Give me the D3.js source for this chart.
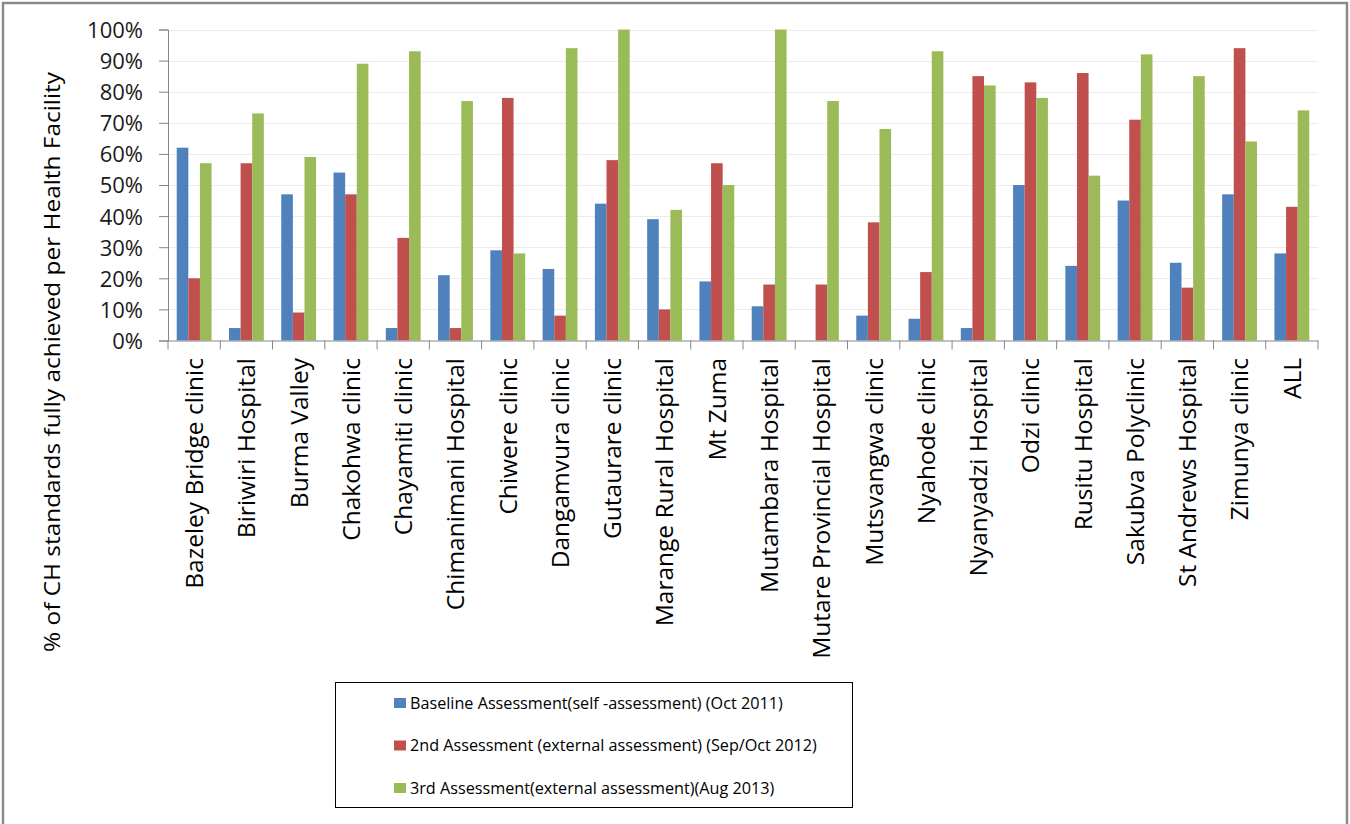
<!DOCTYPE html>
<html><head><meta charset="utf-8">
<script src="https://cdn.jsdelivr.net/npm/d3@7"></script>
<style>
body{margin:0;background:#fff;}
text{font-family:"Open Sans",Lato,sans-serif;fill:#000;}
</style></head>
<body>
<svg id="c" width="1350" height="824"></svg>
<script>
const categories = ["Bazeley Bridge clinic","Biriwiri Hospital","Burma Valley","Chakohwa clinic","Chayamiti clinic","Chimanimani Hospital","Chiwere clinic","Dangamvura clinic","Gutaurare clinic","Marange Rural Hospital","Mt Zuma","Mutambara Hospital","Mutare Provincial Hospital","Mutsvangwa clinic","Nyahode clinic","Nyanyadzi Hospital","Odzi clinic","Rusitu Hospital","Sakubva Polyclinic","St Andrews Hospital","Zimunya clinic","ALL"];
const seriesNames = ["Baseline Assessment(self -assessment) (Oct 2011)","2nd Assessment (external assessment) (Sep/Oct 2012)","3rd Assessment(external assessment)(Aug 2013)"];
const baseline = [62,4,47,54,4,21,29,23,44,39,19,11,0,8,7,4,50,24,45,25,47,28];
const second   = [20,57,9,47,33,4,78,8,58,10,57,18,18,38,22,85,83,86,71,17,94,43];
const third    = [57,73,59,89,93,77,28,94,100,42,50,100,77,68,93,82,78,53,92,85,64,74];
const yTicks = [0,10,20,30,40,50,60,70,80,90,100];
const colors = ["#4F81BD","#C0504D","#9BBB59"];
const series = [baseline, second, third];

const svg = d3.select("#c");
svg.append("rect").attr("x",3).attr("y",3).attr("width",1344).attr("height",840)
  .attr("fill","#fff").attr("stroke","#8a8a8a").attr("stroke-width",2.5);

const pL=168, pR=1318, pT=29.5, pB=340.5;
const x = d3.scaleBand().domain(categories).range([pL,pR]).paddingInner(0).paddingOuter(0);
const y = d3.scaleLinear().domain([0,100]).range([pB,pT]);
const inner = d3.scaleBand().domain([0,1,2]).range([0, x.bandwidth()]).paddingInner(0).paddingOuter(0.75);

// grid
svg.append("g").selectAll("line").data(yTicks.slice(1)).join("line")
  .attr("x1",pL).attr("x2",pR).attr("y1",d=>Math.round(y(d))+0.5).attr("y2",d=>Math.round(y(d))+0.5)
  .attr("stroke","#ececec").attr("stroke-width",1);

// bars
series.forEach((vals,si)=>{
  svg.append("g").selectAll("rect").data(vals).join("rect")
    .attr("x",(d,i)=>x(categories[i])+inner(si))
    .attr("width",inner.bandwidth())
    .attr("y",d=>y(d))
    .attr("height",d=>pB-y(d))
    .attr("fill",colors[si]);
});

// y axis
const ya = svg.append("g").attr("transform",`translate(${pL},0)`)
  .call(d3.axisLeft(y).tickValues(yTicks).tickFormat(d=>d+"%").tickSize(9).tickPadding(16));
ya.select(".domain").attr("stroke","#868686");
ya.selectAll(".tick line").attr("stroke","#868686");
ya.selectAll("text").style("font-size","22px").attr("dy","0.36em").style("fill","#1a1a1a");

// x axis
const xa = svg.append("g").attr("transform",`translate(0,${pB})`)
  .call(d3.axisBottom(x).tickSize(0).tickFormat(""));
xa.select(".domain").attr("stroke","#868686").attr("d",`M${pL},0.5H${pR}`);
const edges = d3.range(categories.length+1).map(i=>pL+i*x.step());
xa.selectAll(".edge").data(edges).join("line").attr("class","edge")
  .attr("x1",d=>d).attr("x2",d=>d).attr("y1",0).attr("y2",9).attr("stroke","#868686");
svg.append("g").selectAll("text").data(categories).join("text")
  .attr("transform",d=>`translate(${x(d)+x.bandwidth()/2},358) rotate(-90)`)
  .attr("text-anchor","end").attr("dy","0.36em").style("font-size","24.5px").text(d=>d);

// y title
svg.append("text").attr("transform","translate(52,362) rotate(-90)")
  .attr("text-anchor","middle").attr("dy","0.36em").style("font-size","22px")
  .attr("textLength",580).attr("lengthAdjust","spacingAndGlyphs")
  .text("% of CH standards fully achieved per Health Facility");

// legend
svg.append("rect").attr("x",335.5).attr("y",682.5).attr("width",517).attr("height",125)
  .attr("fill","#fff").attr("stroke","#000").attr("stroke-width",1);
const lg = svg.append("g").selectAll("g").data(seriesNames).join("g")
  .attr("transform",(d,i)=>`translate(394,${703+i*42.5})`);
lg.append("rect").attr("x",0).attr("y",-5).attr("width",12).attr("height",10).attr("fill",(d,i)=>colors[i]);
lg.append("text").attr("x",16).attr("dy","0.35em").style("font-size","16.2px").text(d=>d);
</script>
</body></html>
